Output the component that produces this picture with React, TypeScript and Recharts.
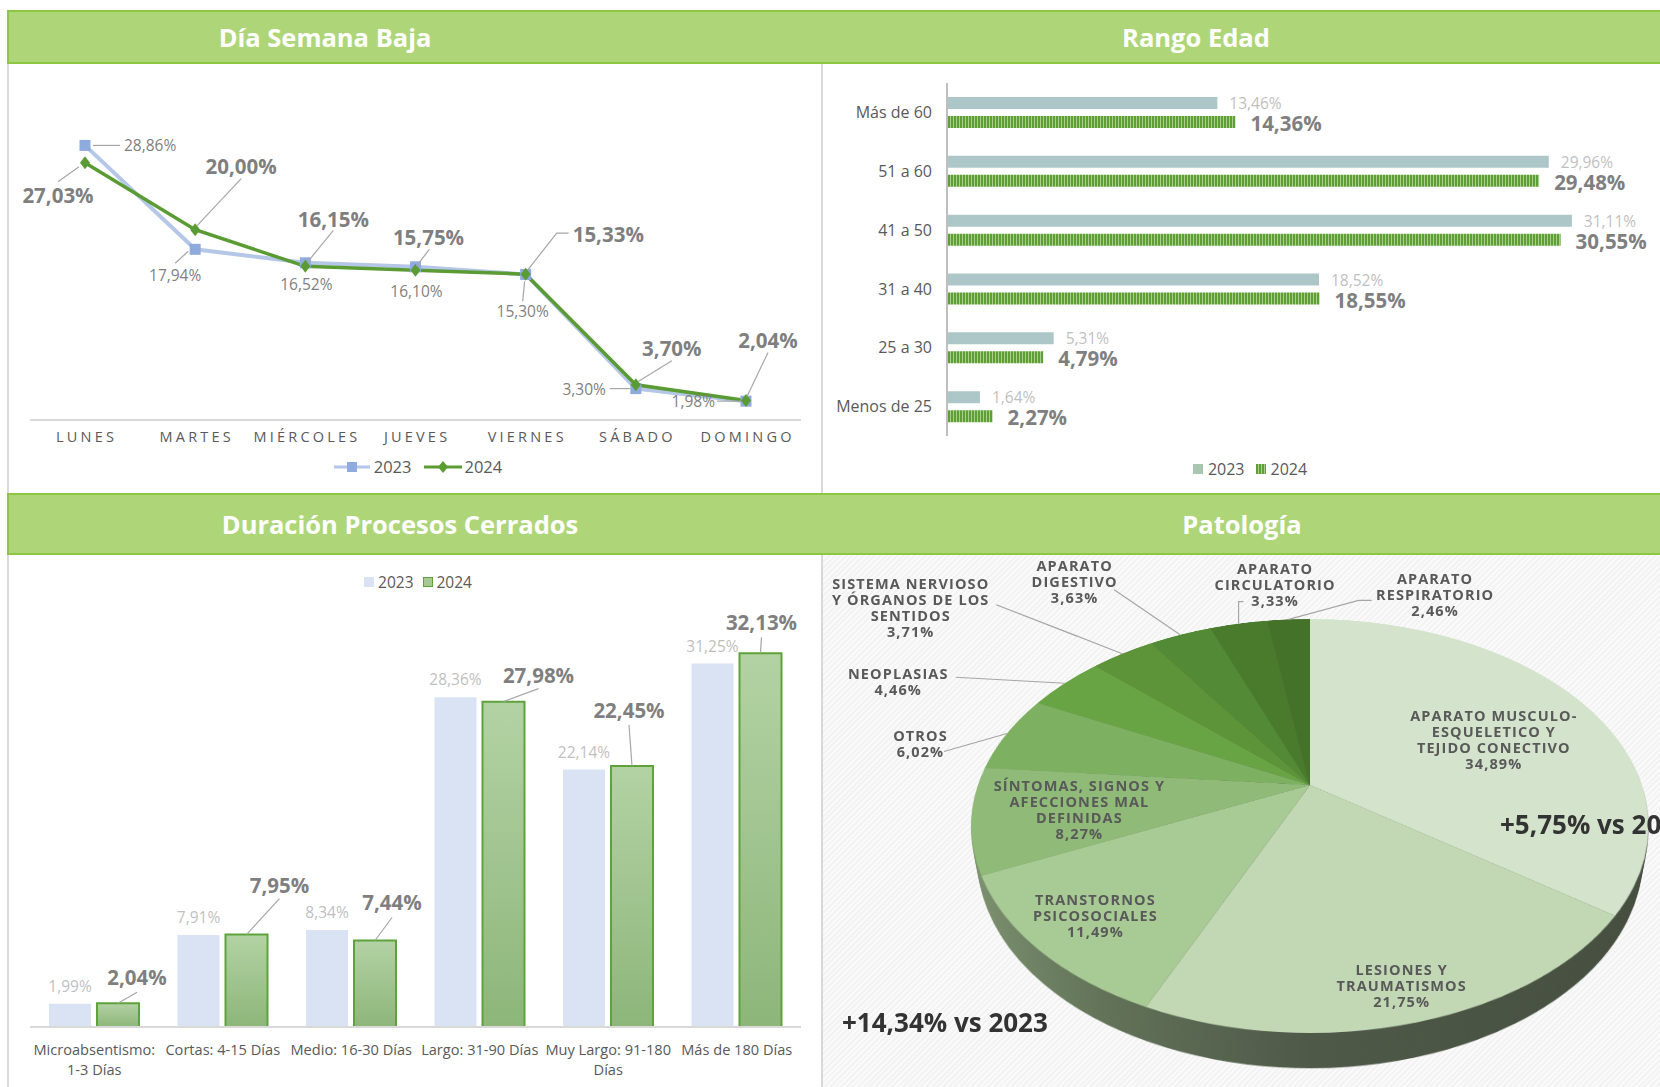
import React from 'react';
import {
  LineChart,
  Line,
  XAxis,
  YAxis,
  Legend,
  LabelList,
  BarChart,
  Bar,
  PieChart,
  Pie,
  Cell,
} from 'recharts';

const FONT = '"Open Sans", "Noto Sans", "DejaVu Sans", sans-serif';
const GRAY = '#595959';
const LABEL = '#7F7F7F';
const LIGHT = '#BFBFBF';
const LEAD = '#A6A6A6';

// Día semana baja
const dias = ['LUNES', 'MARTES', 'MIÉRCOLES', 'JUEVES', 'VIERNES', 'SÁBADO', 'DOMINGO'];
const dia2023 = [28.86, 17.94, 16.52, 16.1, 15.3, 3.3, 1.98];
const dia2024 = [27.03, 20.0, 16.15, 15.75, 15.33, 3.7, 2.04];

// Rango edad
const edades = ['Más de 60', '51 a 60', '41 a 50', '31 a 40', '25 a 30', 'Menos de 25'];
const edad2023 = [13.46, 29.96, 31.11, 18.52, 5.31, 1.64];
const edad2024 = [14.36, 29.48, 30.55, 18.55, 4.79, 2.27];

// Duración procesos cerrados
const duraciones = [
  'Microabsentismo:\n1-3 Días',
  'Cortas: 4-15 Días',
  'Medio: 16-30 Días',
  'Largo: 31-90 Días',
  'Muy Largo: 91-180\nDías',
  'Más de 180 Días',
];
const dur2023 = [1.99, 7.91, 8.34, 28.36, 22.14, 31.25];
const dur2024 = [2.04, 7.95, 7.44, 27.98, 22.45, 32.13];

// Patología
const patologias = [
  'APARATO MUSCULO-\nESQUELETICO Y\nTEJIDO CONECTIVO',
  'LESIONES Y\nTRAUMATISMOS',
  'TRANSTORNOS\nPSICOSOCIALES',
  'SÍNTOMAS, SIGNOS Y\nAFECCIONES MAL\nDEFINIDAS',
  'OTROS',
  'NEOPLASIAS',
  'SISTEMA NERVIOSO\nY ÓRGANOS DE LOS\nSENTIDOS',
  'APARATO\nDIGESTIVO',
  'APARATO\nCIRCULATORIO',
  'APARATO\nRESPIRATORIO',
];
const patologiaPct = [34.89, 21.75, 11.49, 8.27, 6.02, 4.46, 3.71, 3.63, 3.33, 2.46];
const pieColors = [
  '#D4E3CC', '#C2D8B4', '#A8CA95', '#8FBA77', '#7EB062',
  '#68A444', '#5D9439', '#528A35', '#4A7B2D', '#447228',
];

const fmt = (v: number) => v.toFixed(2).replace('.', ',') + '%';

type Place = { dx: number; dy: number; anchor?: 'start' | 'middle' | 'end'; lead?: number[][] };
type FontSpec = { size: number; weight: number; color: string };

const SMALL: FontSpec = { size: 15.5, weight: 400, color: LABEL };
const SMALL_LIGHT: FontSpec = { size: 15.5, weight: 400, color: LIGHT };
const BIG: FontSpec = { size: 20.5, weight: 700, color: LABEL };

// label placement relative to the point / bar top
const diaPlace2023: Place[] = [
  { dx: 39, dy: 0, anchor: 'start', lead: [[8, 0], [35, 0]] },
  { dx: -20, dy: 26, lead: [[-7, 2], [-20, 14]] },
  { dx: 1, dy: 21 },
  { dx: 1, dy: 24 },
  { dx: -3, dy: 37, lead: [[-1, 7], [-3, 27]] },
  { dx: -30, dy: 0, anchor: 'end', lead: [[-26, 0], [-6, 0]] },
  { dx: -31, dy: 0, anchor: 'end', lead: [[-29, 0], [-5, 0]] },
];
const diaPlace2024: Place[] = [
  { dx: -27, dy: 32, lead: [[-6, 4], [-27, 19]] },
  { dx: 46, dy: -64, lead: [[2, -4], [46, -51]] },
  { dx: 28, dy: -47, lead: [[2, -4], [28, -36]] },
  { dx: 13, dy: -33, lead: [[1, -4], [14, -21]] },
  { dx: 47, dy: -40, anchor: 'start', lead: [[2, -4], [31, -41], [43, -41]] },
  { dx: 36, dy: -37, lead: [[2, -3], [36, -24]] },
  { dx: 22, dy: -61, lead: [[1, -4], [22, -48]] },
];
const durPlace2023: Place[] = dur2023.map(() => ({ dx: 0, dy: -18 }));
const durPlace2024: Place[] = [
  { dx: 19, dy: -26, lead: [[0, 0], [19, -11]] },
  { dx: 33, dy: -50, lead: [[0, 0], [33, -36]] },
  { dx: 17, dy: -38, lead: [[0, 0], [17, -23]] },
  { dx: 35, dy: -27, lead: [[0, 0], [35, -13]] },
  { dx: -3, dy: -56, lead: [[0, 0], [-3, -41]] },
  { dx: 1, dy: -31, lead: [[0, -1], [1, -16]] },
];

const vbOf = (p: any) => {
  const v = p.viewBox || {};
  return {
    x: v.x ?? p.x,
    y: v.y ?? p.y,
    w: v.width ?? p.width ?? 0,
    h: v.height ?? p.height ?? 0,
  };
};

const placedLabel = (places: Place[], f: FontSpec, barTop: boolean) => (p: any) => {
  const { x, y, w } = vbOf(p);
  const pl = places[p.index];
  if (!pl || x == null || y == null) return null;
  const ox = barTop ? x + w / 2 : x;
  const oy = y;
  return (
    <g>
      {pl.lead && (
        <polyline
          points={pl.lead.map(([a, b]) => `${ox + a},${oy + b}`).join(' ')}
          fill="none"
          stroke={LEAD}
          strokeWidth={1.2}
        />
      )}
      <text
        x={ox + pl.dx}
        y={oy + pl.dy}
        textAnchor={pl.anchor || 'middle'}
        dominantBaseline="central"
        fontFamily={FONT}
        fontSize={f.size}
        fontWeight={f.weight}
        fill={f.color}
      >
        {fmt(Number(p.value))}
      </text>
    </g>
  );
};

const endLabel = (gap: number, shift: number, f: FontSpec) => (p: any) => {
  const { x, y, w, h } = vbOf(p);
  if (x == null) return null;
  return (
    <text
      x={x + w + gap}
      y={y + h / 2 + shift}
      dominantBaseline="central"
      fontFamily={FONT}
      fontSize={f.size}
      fontWeight={f.weight}
      fill={f.color}
    >
      {fmt(Number(p.value))}
    </text>
  );
};

const squareDot = (p: any) => (
  <rect key={`sq${p.index}`} x={p.cx - 5.5} y={p.cy - 5.5} width={11} height={11} fill="#8FAADC" />
);
const diamondDot = (p: any) => (
  <path
    key={`dm${p.index}`}
    d={`M${p.cx},${p.cy - 6.5} L${p.cx + 5},${p.cy} L${p.cx},${p.cy + 6.5} L${p.cx - 5},${p.cy} Z`}
    fill="#5A9B33"
  />
);

const DayTick = (p: any) => (
  <text
    x={p.x + 1.6}
    y={p.y + 8}
    textAnchor="middle"
    dominantBaseline="central"
    fontFamily={FONT}
    fontSize={14.5}
    fill={GRAY}
    style={{ letterSpacing: '3.2px' }}
  >
    {p.payload.value}
  </text>
);

const DurTick = (p: any) => {
  const lines = String(p.payload.value).split('\n');
  return (
    <text textAnchor="middle" fontFamily={FONT} fontSize={14.6} fill={GRAY}>
      {lines.map((l, i) => (
        <tspan key={i} x={p.x} y={p.y + 14 + i * 20} dominantBaseline="central">
          {l}
        </tspan>
      ))}
    </text>
  );
};

const legendRow: React.CSSProperties = {
  display: 'flex',
  justifyContent: 'center',
  alignItems: 'center',
  fontFamily: FONT,
  fontSize: 16.5,
  color: GRAY,
  lineHeight: '20px',
};

const DiaLegend = () => (
  <div style={legendRow}>
    <svg width={36} height={14}>
      <line x1={0} y1={7} x2={36} y2={7} stroke="#B4C7E7" strokeWidth={3} />
      <rect x={13} y={2} width={10} height={10} fill="#8FAADC" />
    </svg>
    <span style={{ marginLeft: 4, marginRight: 12 }}>2023</span>
    <svg width={38} height={14}>
      <line x1={0} y1={7} x2={38} y2={7} stroke="#5A9B33" strokeWidth={3} />
      <path d="M19,1 L24,7 L19,13 L14,7 Z" fill="#5A9B33" />
    </svg>
    <span style={{ marginLeft: 3 }}>2024</span>
  </div>
);

function DiaChart() {
  const data = dias.map((dia, i) => ({ dia, v2023: dia2023[i], v2024: dia2024[i] }));
  return (
    <LineChart width={822} height={430} data={data} margin={{ top: 24, right: 21, left: 30, bottom: 33 }}>
      <XAxis
        dataKey="dia"
        padding={{ left: 55, right: 55 }}
        height={40}
        interval={0}
        tickLine={false}
        axisLine={{ stroke: '#D9D9D9', strokeWidth: 2 }}
        tick={(p: any) => <DayTick {...p} />}
      />
      <YAxis hide type="number" domain={[0, 35]} />
      <Line
        dataKey="v2023"
        stroke="#B4C7E7"
        strokeWidth={4}
        dot={squareDot}
        activeDot={false}
        isAnimationActive={false}
      >
        <LabelList dataKey="v2023" content={placedLabel(diaPlace2023, SMALL, false)} />
      </Line>
      <Line
        dataKey="v2024"
        stroke="#5A9B33"
        strokeWidth={3.5}
        dot={diamondDot}
        activeDot={false}
        isAnimationActive={false}
      >
        <LabelList dataKey="v2024" content={placedLabel(diaPlace2024, BIG, false)} />
      </Line>
      <Legend
        verticalAlign="middle"
        align="center"
        wrapperStyle={{ top: 394, left: 0, width: 836 }}
        content={() => <DiaLegend />}
      />
    </LineChart>
  );
}

const EdadLegend = () => (
  <div style={{ ...legendRow, fontSize: 16 }}>
    <span style={{ width: 10, height: 10, background: '#A9C7B0', display: 'inline-block' }} />
    <span style={{ marginLeft: 5, marginRight: 11 }}>2023</span>
    <span
      style={{
        width: 10,
        height: 10,
        display: 'inline-block',
        background: 'repeating-linear-gradient(90deg, #5E9E34 0 2px, #A9CF8E 2px 3px)',
      }}
    />
    <span style={{ marginLeft: 5 }}>2024</span>
  </div>
);

function EdadChart() {
  const data = edades.map((edad, i) => ({ edad, v2023: edad2023[i], v2024: edad2024[i] }));
  return (
    <BarChart
      width={838}
      height={430}
      data={data}
      layout="vertical"
      margin={{ top: 20, right: 10, left: 0, bottom: 57 }}
      barSize={12}
      barGap={7}
    >
      <defs>
        <pattern id="edadStripe" width="3" height="12" patternUnits="userSpaceOnUse">
          <rect width="3" height="12" fill="#A9CF8E" />
          <rect width="2" height="12" fill="#5E9E34" />
        </pattern>
      </defs>
      <XAxis type="number" domain={[0, 35]} hide />
      <YAxis
        type="category"
        dataKey="edad"
        width={125}
        interval={0}
        tickLine={false}
        tickMargin={9}
        axisLine={{ stroke: '#BFBFBF', strokeWidth: 2 }}
        tick={{ fill: GRAY, fontSize: 16, fontFamily: FONT }}
      />
      <Bar dataKey="v2023" fill="#ADC6C8" isAnimationActive={false}>
        <LabelList dataKey="v2023" content={endLabel(12, 0, SMALL_LIGHT)} />
      </Bar>
      <Bar dataKey="v2024" fill="url(#edadStripe)" isAnimationActive={false}>
        <LabelList dataKey="v2024" content={endLabel(15, 1, BIG)} />
      </Bar>
      <Legend
        verticalAlign="middle"
        align="center"
        wrapperStyle={{ top: 396, left: 0, width: 856 }}
        content={() => <EdadLegend />}
      />
    </BarChart>
  );
}

const DurLegend = () => (
  <div style={{ ...legendRow, fontSize: 15.5 }}>
    <span style={{ width: 10, height: 10, background: '#DAE3F3', display: 'inline-block' }} />
    <span style={{ marginLeft: 4, marginRight: 9 }}>2023</span>
    <span
      style={{
        width: 8,
        height: 8,
        background: '#A6C993',
        border: '1px solid #5EA33A',
        display: 'inline-block',
      }}
    />
    <span style={{ marginLeft: 4 }}>2024</span>
  </div>
);

function DuracionChart() {
  const data = duraciones.map((dur, i) => ({ dur, v2023: dur2023[i], v2024: dur2024[i] }));
  return (
    <BarChart
      width={822}
      height={532}
      data={data}
      margin={{ top: 65, right: 21, left: 30, bottom: 0 }}
      barSize={42}
      barGap={6}
    >
      <defs>
        <linearGradient id="durGrad" x1="0" y1="0" x2="0" y2="1">
          <stop offset="0" stopColor="#B3D2A4" />
          <stop offset="1" stopColor="#8DB67A" />
        </linearGradient>
      </defs>
      <XAxis
        dataKey="dur"
        height={60}
        interval={0}
        tickLine={false}
        axisLine={{ stroke: '#D9D9D9', strokeWidth: 2 }}
        tick={(p: any) => <DurTick {...p} />}
      />
      <YAxis hide type="number" domain={[0, 35]} />
      <Bar dataKey="v2023" fill="#DAE3F3" isAnimationActive={false}>
        <LabelList dataKey="v2023" content={placedLabel(durPlace2023, SMALL_LIGHT, true)} />
      </Bar>
      <Bar dataKey="v2024" fill="url(#durGrad)" stroke="#5EA33A" strokeWidth={2} isAnimationActive={false}>
        <LabelList dataKey="v2024" content={placedLabel(durPlace2024, BIG, true)} />
      </Bar>
      <Legend
        verticalAlign="middle"
        align="center"
        wrapperStyle={{ top: 17, left: 0, width: 836 }}
        content={() => <DurLegend />}
      />
    </BarChart>
  );
}

// 3D pie: a flat Recharts pie tilted with a CSS perspective transform
const PIE = { cx: 1310, cy: 785, r: 332, tilt: 53.2, persp: 1343, depth: 42 };
const pieData = patologias.map((name, i) => ({ name, value: patologiaPct[i] }));

const pieLabelPlace: { k: number; dx: number; dy: number; lead?: number[][] }[] = [
  { k: 0.62, dx: 10, dy: 8 },
  { k: 0.87, dx: 0, dy: 0 },
  { k: 0.8, dx: -5, dy: 3 },
  { k: 0.69, dx: 0, dy: 0 },
  { k: 1, dx: -87, dy: 10, lead: [[24, 8]] },
  { k: 1, dx: -167, dy: -2, lead: [[58, -4]] },
  { k: 1, dx: -212, dy: -46, lead: [[86, -3]] },
  { k: 1, dx: -106, dy: -53, lead: [[40, 8]] },
  { k: 1, dx: 36, dy: -39, lead: [[-36, 17], [-31, 17]] },
  { k: 1, dx: 146, dy: -25, lead: [[-76, 6], [-63, 6]] },
];

const project = (angleDeg: number, rr: number) => {
  const t = (angleDeg * Math.PI) / 180;
  const lx = rr * Math.cos(t);
  const ly = -rr * Math.sin(t);
  const a = (PIE.tilt * Math.PI) / 180;
  const z = ly * Math.sin(a);
  const f = PIE.persp / (PIE.persp - z);
  return [lx * f, ly * Math.cos(a) * f];
};

const renderPieLabel = (p: any) => {
  const pl = pieLabelPlace[p.index];
  if (!pl) return null;
  const [ax, ay] = project(p.midAngle, p.outerRadius * pl.k);
  const tx = p.cx + ax + pl.dx;
  const ty = p.cy + ay + pl.dy;
  const name = p.payload?.name ?? p.name;
  const lines = [...String(name).split('\n'), fmt(Number(p.value))];
  const lh = 16;
  let leader = null;
  if (pl.lead) {
    const [ex, ey] = project(p.midAngle, p.outerRadius);
    const pts = [[p.cx + ex, p.cy + ey], ...pl.lead.map(([a, b]) => [tx + a, ty + b])];
    leader = <polyline points={pts.map((q) => q.join(',')).join(' ')} fill="none" stroke={LEAD} strokeWidth={1.2} />;
  }
  return (
    <g key={`pl${p.index}`}>
      {leader}
      <text
        textAnchor="middle"
        fontFamily={FONT}
        fontSize={14.5}
        fontWeight={700}
        fill={GRAY}
        style={{ letterSpacing: '1.1px' }}
      >
        {lines.map((l, i) => (
          <tspan key={i} x={tx + 0.5} y={ty - ((lines.length - 1) * lh) / 2 + i * lh} dominantBaseline="central">
            {l}
          </tspan>
        ))}
      </text>
    </g>
  );
};

function PieFace({ z }: { z: number }) {
  const size = PIE.r * 2 + 4;
  const side = z > 0;
  const gid = `pieSide${z}`;
  return (
    <div
      style={{
        position: 'absolute',
        left: PIE.cx - size / 2,
        top: PIE.cy - size / 2,
        width: size,
        height: size,
        transform: `perspective(${PIE.persp}px) rotateX(${PIE.tilt}deg) translateZ(${-z}px)`,
        transformOrigin: '50% 50%',
      }}
    >
      <PieChart width={size} height={size} margin={{ top: 0, right: 0, bottom: 0, left: 0 }}>
        <defs>
          <linearGradient id={gid} gradientUnits="userSpaceOnUse" x1={0} y1={0} x2={size} y2={0}>
            <stop offset="0" stopColor="#809673" />
            <stop offset="0.25" stopColor="#617157" />
            <stop offset="0.5" stopColor="#4E5948" />
            <stop offset="1" stopColor="#444C3E" />
          </linearGradient>
        </defs>
        <Pie
          data={pieData}
          dataKey="value"
          cx="50%"
          cy="50%"
          outerRadius={PIE.r}
          startAngle={90}
          endAngle={-270}
          stroke="none"
          isAnimationActive={false}
        >
          {pieData.map((d, i) => (
            <Cell key={d.name} fill={side ? `url(#${gid})` : pieColors[i]} />
          ))}
        </Pie>
      </PieChart>
    </div>
  );
}

function PatologiaChart() {
  const left = 822;
  const top = 555;
  const layers: number[] = [];
  for (let z = PIE.depth; z > 0; z -= 2) layers.push(z);
  return (
    <>
      {layers.map((z) => (
        <PieFace key={z} z={z} />
      ))}
      <PieFace z={0} />
      <div style={{ position: 'absolute', left, top }}>
        <PieChart width={838} height={532} margin={{ top: 0, right: 0, bottom: 0, left: 0 }}>
          <Pie
            data={pieData}
            dataKey="value"
            cx={PIE.cx - left}
            cy={PIE.cy - top}
            outerRadius={PIE.r}
            startAngle={90}
            endAngle={-270}
            fill="transparent"
            stroke="none"
            labelLine={false}
            label={renderPieLabel}
            isAnimationActive={false}
          />
        </PieChart>
      </div>
      <div style={noteStyle(1500, 824)}>+5,75% vs 2023</div>
      <div style={noteStyle(842, 1022)}>+14,34% vs 2023</div>
    </>
  );
}

const noteStyle = (x: number, y: number): React.CSSProperties => ({
  position: 'absolute',
  left: x,
  top: y - 18,
  height: 36,
  lineHeight: '36px',
  fontFamily: FONT,
  fontSize: 26,
  fontWeight: 700,
  color: '#333333',
  whiteSpace: 'nowrap',
});

function Header({ top, height, titles }: { top: number; height: number; titles: [string, number][] }) {
  return (
    <div
      style={{
        position: 'absolute',
        left: 7,
        top,
        width: 1653,
        height,
        boxSizing: 'border-box',
        background: '#AED679',
        borderTop: '2px solid #8DC641',
        borderBottom: '2px solid #8DC641',
        borderLeft: '2px solid #8DC641',
      }}
    >
      {titles.map(([t, cx]) => (
        <div
          key={t}
          style={{
            position: 'absolute',
            left: cx - 7 - 300,
            width: 600,
            top: 0,
            height: height - 4,
            lineHeight: `${height - 4}px`,
            textAlign: 'center',
            color: '#fff',
            fontFamily: FONT,
            fontWeight: 700,
            fontSize: 25.5,
          }}
        >
          {t}
        </div>
      ))}
    </div>
  );
}

export default function App() {
  return (
    <div
      style={{
        position: 'absolute',
        left: 0,
        top: 0,
        width: 1660,
        height: 1087,
        overflow: 'hidden',
        background: '#fff',
        fontFamily: FONT,
      }}
    >
      <div style={{ position: 'absolute', left: 7, top: 63, width: 2, height: 1024, background: '#D9D9D9' }} />
      <div style={{ position: 'absolute', left: 821, top: 63, width: 2, height: 1024, background: '#D9D9D9' }} />
      <div
        style={{
          position: 'absolute',
          left: 823,
          top: 555,
          width: 837,
          height: 532,
          background: 'repeating-linear-gradient(135deg, #F3F3F3 0px, #F3F3F3 2px, #FAFAFA 2px, #FAFAFA 4px)',
        }}
      />
      <Header top={10} height={54} titles={[['Día Semana Baja', 323], ['Rango Edad', 1194]]} />
      <Header top={493} height={62} titles={[['Duración Procesos Cerrados', 398], ['Patología', 1240]]} />
      <div style={{ position: 'absolute', left: 0, top: 63 }}>
        <DiaChart />
      </div>
      <div style={{ position: 'absolute', left: 822, top: 63 }}>
        <EdadChart />
      </div>
      <div style={{ position: 'absolute', left: 0, top: 555 }}>
        <DuracionChart />
      </div>
      <PatologiaChart />
    </div>
  );
}
